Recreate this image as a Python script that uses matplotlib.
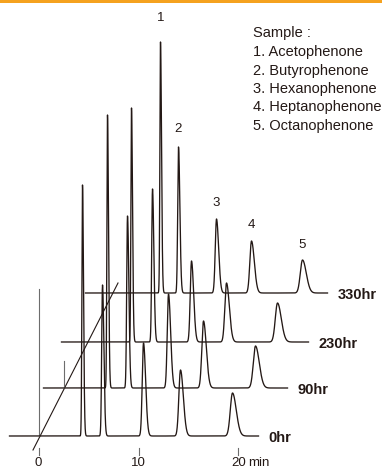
import numpy as np
import matplotlib
matplotlib.use('Agg')
import matplotlib.pyplot as plt

plt.rcParams['font.family'] = ['Liberation Sans', 'DejaVu Sans']

ink = '#231815'
orange = '#F5A21F'

# aging runs, front (0hr) to back (330hr)
run_labels = ['0hr', '90hr', '230hr', '330hr']
run_shift_min = [0.0, 2.5, 5.0, 7.5]      # horizontal stagger of each trace, min
run_shift_sig = [0, 48, 94, 143]          # vertical stagger of each trace
run_start = [-2.9, -2.0, -2.7, -2.8]
run_end = [22.0, 22.4, 22.0, 21.4]
inject_mark = [147, 27, 0, 0]

# retention times (min) and peak heights for compounds 1-5 in every run
rt_0 = [4.4, 6.4, 10.5, 14.2, 19.4]
rt_90 = [4.4, 6.4, 10.5, 14.0, 19.2]
rt_230 = [4.3, 6.4, 10.3, 13.8, 18.9]
rt_330 = [4.7, 6.5, 10.3, 13.8, 18.9]
h_0 = [251, 151, 93, 66, 43]
h_90 = [273, 172, 94, 67, 42]
h_230 = [234, 153, 81, 59, 39]
h_330 = [251, 146, 74, 52, 33]
peak_width = [0.06, 0.08, 0.125, 0.165, 0.22]

retention = [rt_0, rt_90, rt_230, rt_330]
heights = [h_0, h_90, h_230, h_330]

peak_names = ['1', '2', '3', '4', '5']
label_gap = [24, 18, 16, 16, 15]
samples = ['Acetophenone', 'Butyrophenone', 'Hexanophenone',
           'Heptanophenone', 'Octanophenone']
ticks = [0, 10, 20]


def peak(t, rt, h, w, tail=1.7):
    s = np.where(t < rt, w, w * tail)
    return h * np.exp(-0.5 * ((t - rt) / s) ** 2)


fig = plt.figure(figsize=(3.82, 4.68), dpi=100)
ax = fig.add_axes([0, 0, 1, 1])
ax.set_xlim(-3.85, 34.35)
ax.set_ylim(-32, 436)
ax.axis('off')

# orange header strip
ax.axhspan(433, 436, color=orange, lw=0)

# diagonal time axis through every trace origin
ax.plot([-0.55, 7.95], [-14, 153], color=ink, lw=0.8, zorder=1)

for i in range(len(run_labels)) :
    x0, y0 = run_shift_min[i], run_shift_sig[i]
    t = np.linspace(run_start[i], run_end[i], 8000)
    sig = np.zeros_like(t)
    for rt, h, w in zip(retention[i], heights[i], peak_width):
        sig += peak(t, rt, h, w)
    ax.plot(t + x0, sig + y0, color=ink, lw=0.95, zorder=5 - i)
    if inject_mark[i]:
        ax.plot([x0, x0], [y0, y0 + inject_mark[i]], color='#6d6d6d',
                lw=0.8, zorder=1)
    ax.text(run_end[i] + x0 + 1.0, y0 - 2, run_labels[i], fontsize=10.5,
            fontweight='bold', color=ink, ha='left', va='center')

# compound numbers over the back trace
for name, rt, h, gap in zip(peak_names, rt_330, h_330, label_gap):
    ax.text(rt + run_shift_min[3], h + run_shift_sig[3] + gap, name,
            fontsize=9.5, color=ink, ha='center', va='center')

# sample list
ax.text(21.5, 403, 'Sample :', fontsize=10.5, color=ink, va='center')
for k, s in enumerate(samples):
    ax.text(21.5, 384 - 18.5 * k, f'{k + 1}. {s}', fontsize=10.5,
            color=ink, va='center')

# time ticks
for tk in ticks:
    ax.plot([tk, tk], [-12, -19], color='#6d6d6d', lw=0.8)
    ax.text(tk, -30, str(tk), fontsize=9.5, color=ink, ha='center',
            va='baseline')
ax.text(20.95, -30, 'min', fontsize=9.5, color=ink, ha='left', va='baseline')

fig.savefig('out.png', dpi=100)
